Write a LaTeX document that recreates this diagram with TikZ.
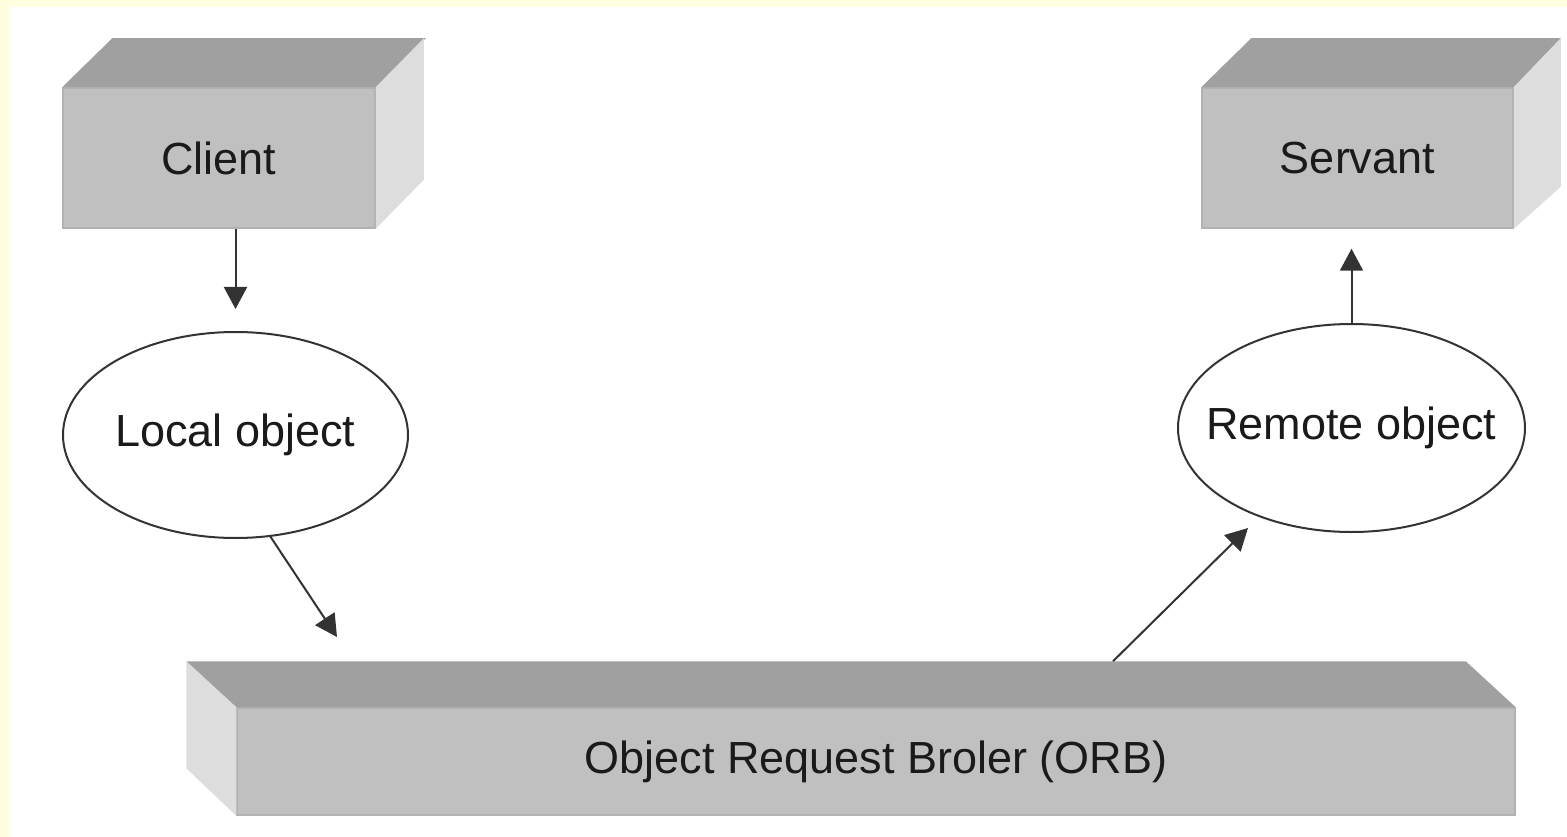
\documentclass[tikz,border=0pt]{standalone}
\usepackage{fontspec}
\setmainfont{Liberation Sans}
\usetikzlibrary{arrows.meta,shapes.geometric,calc}
\definecolor{frontgray}{HTML}{C0C0C0}
\definecolor{topgray}{HTML}{A0A0A0}
\definecolor{sidegray}{HTML}{DDDDDD}
\definecolor{edgegray}{HTML}{B2B2B2}
\definecolor{bgyellow}{HTML}{FFFFDF}
\definecolor{linegray}{HTML}{333333}
\definecolor{textgray}{HTML}{1A1A1A}
\begin{document}
\begin{tikzpicture}[x=1pt,y=-1pt,
  lbl/.style={font=\fontsize{45}{54}\selectfont, text=textgray},
  face/.style={rectangle, fill=frontgray, draw=edgegray, line width=1.5pt, inner sep=0pt, lbl},
  topface/.style={fill=topgray},
  sideface/.style={fill=sidegray},
  objell/.style={ellipse, draw=linegray, line width=2pt, fill=white, inner ysep=0pt, inner xsep=-30pt, lbl},
  arr/.style={draw=linegray, line width=2pt, -{Triangle[length=22pt,width=23pt]}}
]
\useasboundingbox (0,0) rectangle (1567,837);
\fill[white] (0,0) rectangle (1567,837);
\fill[bgyellow] (0,0) rectangle (1567,7);
\fill[bgyellow] (0,0) rectangle (10,837);

% Client box
\node[face, minimum width=312pt, minimum height=140pt] (client) at (219,158) {Client};
\fill[topface] (client.north west) -- ++(50,-49) -- ([shift={(50,-49)}]client.north east) -- (client.north east) -- cycle;
\fill[sideface] (client.north east) -- ++(48,-49) -- ([shift={(48,-49)}]client.south east) -- (client.south east) -- cycle;

% Servant box
\node[face, minimum width=311pt, minimum height=140pt] (servant) at (1357.5,158) {Servant};
\fill[topface] (servant.north west) -- ++(50,-49) -- ([shift={(47,-49)}]servant.north east) -- (servant.north east) -- cycle;
\fill[sideface] (servant.north east) -- ++(47,-49) -- ([shift={(47,-42)}]servant.south east) -- (servant.south east) -- cycle;

% ORB box
\node[face, minimum width=1278pt, minimum height=107pt] (orb) at (876,761.5) {Object Request Broler (ORB)};
\fill[topface] (orb.north west) -- ++(-50,-46) -- ([shift={(-50,-46)}]orb.north east) -- (orb.north east) -- cycle;
\fill[sideface] (orb.north west) -- ++(-50,-46) -- ++(0,107) -- (orb.south west) -- cycle;

% Objects
\node[objell, minimum width=345pt, minimum height=206pt] (local) at (235.5,435) {Local object};
\node[objell, minimum width=347pt, minimum height=208pt] (remote) at (1351.5,428) {Remote object};

% Connectors
\coordinate (ltip) at (337,637);
\coordinate (rtip) at (1248,528);
\draw[arr, shorten >=22pt] (local.north |- client.south) -- (local.north);
\draw[arr] (local.-71) -- (ltip);
\draw[arr] ([shift={(237,-46)}]orb.north) -- (rtip);
\draw[arr, shorten >=20pt] (remote.north) -- (remote.north |- servant.south);
\end{tikzpicture}
\end{document}
